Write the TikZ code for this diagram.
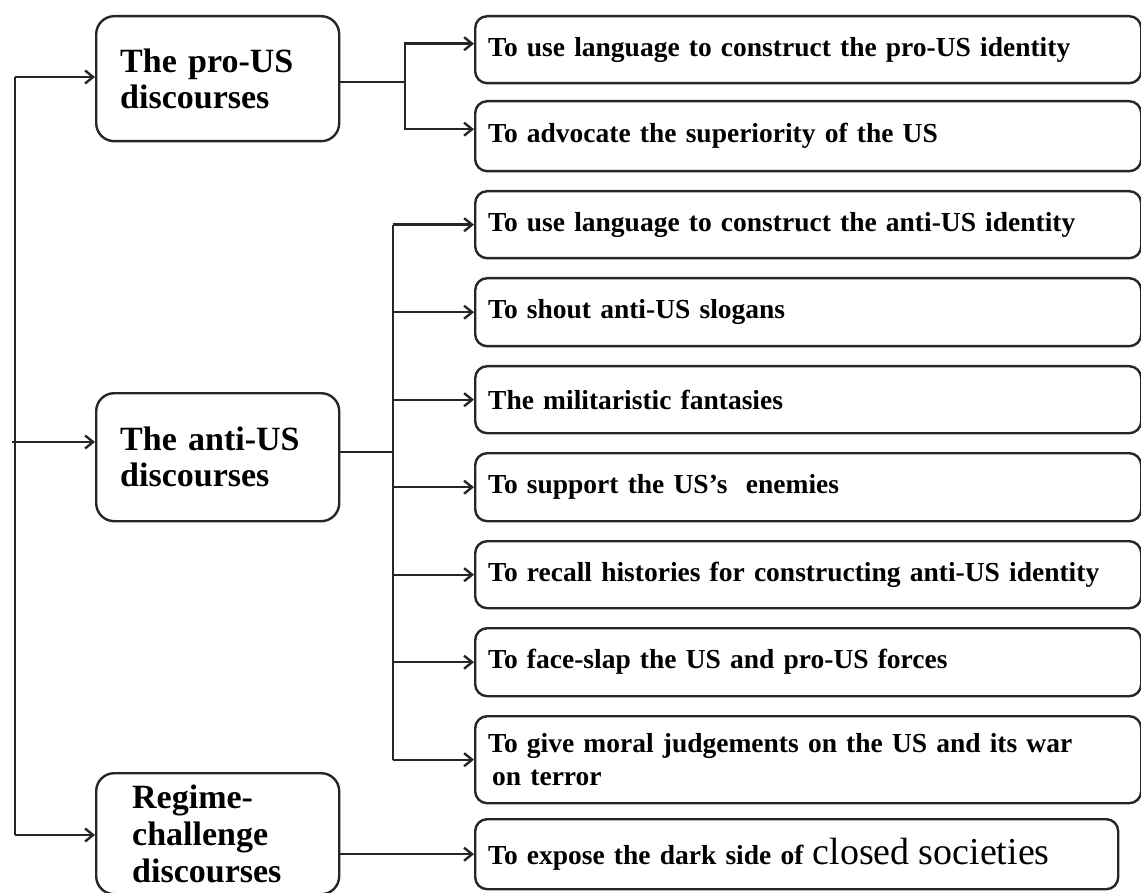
\documentclass[tikz,border=0pt]{standalone}
\usepackage{fontspec}
\setmainfont{Liberation Serif}
\usetikzlibrary{arrows.meta}

\begin{document}
\begin{tikzpicture}[x=1pt, y=-1pt, color=black!85, line width=2.4pt, >={Straight Barb[length=8pt, width=13pt]}]
	\tikzstyle{every node} = [draw, text=black, align=left, line width=2.4pt]
	\tikzstyle{mainbox} = [rounded corners=18pt, anchor=north west, text width=195pt, inner xsep=24pt, font=\bfseries\fontsize{34}{36}\selectfont]
	\tikzstyle{aimbox} = [rounded corners=12pt, anchor=north west, text width=640pt, inner xsep=13pt, font=\bfseries\fontsize{27.5}{33}\selectfont]
	\useasboundingbox (0,0) rectangle (1141,893);
	\node[mainbox, minimum height=125pt] (pro) at (95,15) {The pro-US\\discourses};
	\node[mainbox, minimum height=128pt] (anti) at (95,392) {The anti-US\\discourses};
	\node[mainbox, minimum height=121pt, text width=171pt, inner xsep=36pt, font=\bfseries\fontsize{34}{37}\selectfont] (reg) at (95,772) {Regime-\\challenge\\discourses};
	\node[aimbox, minimum height=67pt] (r1) at (474,15) {To use language to construct the pro-US identity};
	\node[aimbox, minimum height=70pt] (r2) at (474,100) {To advocate the superiority of the US};
	\node[aimbox, minimum height=67pt] (r3) at (474,190) {To use language to construct the anti-US identity};
	\node[aimbox, minimum height=68pt] (r4) at (474,277) {To shout anti-US slogans};
	\node[aimbox, minimum height=67pt] (r5) at (474,365) {The militaristic fantasies};
	\node[aimbox, minimum height=68pt] (r6) at (474,452) {To support the US’s\ \ enemies};
	\node[aimbox, minimum height=67pt] (r7) at (474,540) {To recall histories for constructing anti-US identity};
	\node[aimbox, minimum height=68pt] (r8) at (474,627) {To face-slap the US and pro-US forces};
	\node[aimbox, minimum height=87pt] (r9) at (474,715) {To give moral judgements on the US and its war\\\hspace*{4pt}on terror};
	\node[aimbox, minimum height=70pt, text width=617pt] (r10) at (474,818) {To expose the dark side of\ {\mdseries\fontsize{38}{40}\selectfont closed societies}};
	\coordinate (top) at (15,77);
	\coordinate (mid) at (12,442);
	\coordinate (bottom) at (15,835);
	\coordinate (pb) at (405,82);
	\coordinate (ab) at (393,452);
	\draw (top) -- (bottom);
	\draw [->] (top) -- (top -| pro.west);
	\draw [->] (mid) -- (mid -| anti.west);
	\draw [->] (bottom) -- (bottom -| reg.west);
	\draw (pro.east |- pb) -- (pb);
	\draw [->] (pb) |- ([yshift=6pt]r1.west);
	\draw [->] (pb) |- ([yshift=7pt]r2.west);
	\draw (anti.east |- ab) -- (ab);
	\draw (ab |- r3) -- (ab |- r9);
	\foreach \n in {3,...,9} \draw [->] (ab |- r\n) -- (r\n);
	\draw [->] (reg.east |- r10) -- (r10);
\end{tikzpicture}
\end{document}
